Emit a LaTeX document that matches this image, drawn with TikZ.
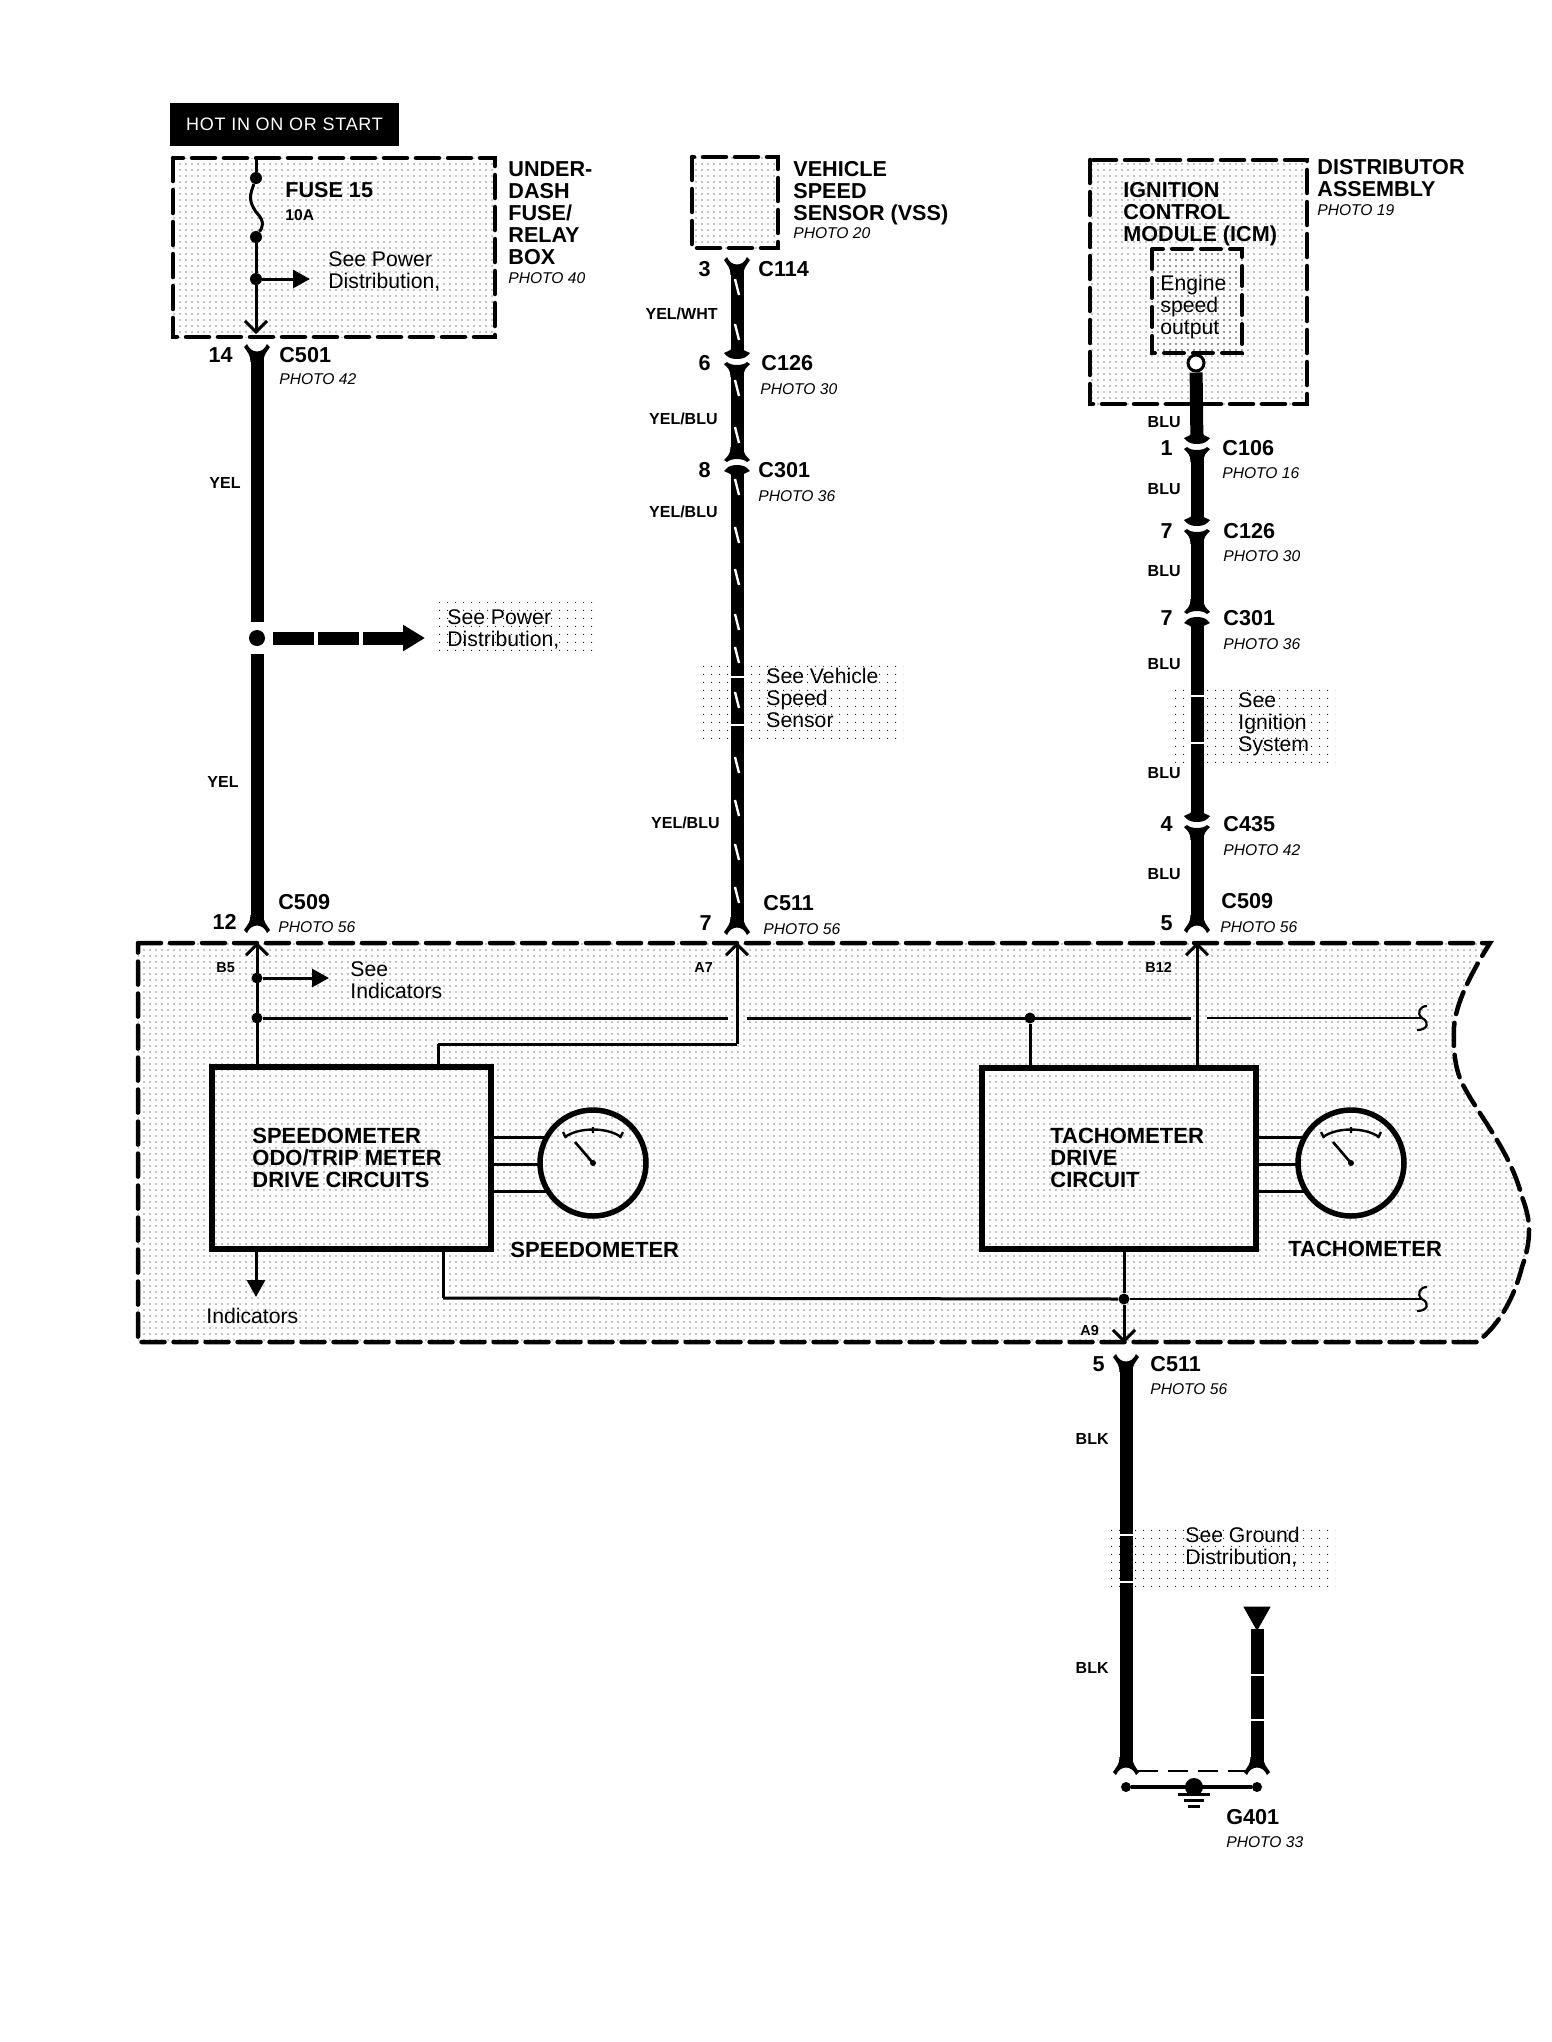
\documentclass[tikz,border=0pt]{standalone}
\usepackage{fontspec}
\setmainfont{Liberation Sans}
\newfontfamily\tagfont[LetterSpace=4]{Liberation Sans}
\usetikzlibrary{arrows.meta, patterns.meta, positioning}

\tikzset{
	stipple/.style={pattern={Dots[distance=3pt,radius=.36pt]}, pattern color=black},
	sparse/.style={pattern={Dots[distance=4pt,radius=.34pt]}, pattern color=black},
	dashbox/.style={draw, line width=2.25pt, line cap=round, dash pattern=on 11.5pt off 4.5pt, stipple},
	wire/.style={line width=6.5pt},
	thinwire/.style={line width=1.5pt},
	hair/.style={line width=1.1pt},
	stripe/.style={white, line width=1.2pt},
	block/.style={draw, rectangle, line width=3pt, inner sep=0pt},
	dot/.style={circle, fill, inner sep=0pt, minimum size=#1},
	dot/.default=6pt,
	gaugebody/.style={draw, circle, line width=2.75pt, inner sep=0pt, minimum size=53pt},
	txt/.style={inner sep=0pt, anchor=base west, align=left},
	bigname/.style={txt, font=\fontsize{10.8}{11}\selectfont\bfseries},
	seetxt/.style={txt, font=\fontsize{10.6}{11}\selectfont},
	photo/.style={txt, font=\fontsize{7.8}{9}\selectfont\itshape},
	pin/.style={txt, anchor=base east, font=\fontsize{10.8}{11}\selectfont\bfseries},
	colour/.style={txt, anchor=base east, font=\fontsize{8}{9}\selectfont\bfseries},
	small/.style={txt, font=\fontsize{7.2}{8}\selectfont\bfseries},
	barb/.style={-{Straight Barb[length=5.5pt,width=11pt]}},
	solid tip/.style={-{Triangle[length=8.5pt,width=9pt]}},
	forkend/.pic={
		\fill (-13,2) -- (-10,-1) .. controls (-6,9) and (6,9) .. (10,-1) -- (13,2)
			.. controls (9,8) and (6.5,10) .. (6.5,17) -- (-6.5,17)
			.. controls (-6.5,10) and (-9,8) .. (-13,2) -- cycle;
	},
	forkmid/.pic={
		\fill (-13,1) -- (-10,-1) .. controls (-6,3) and (6,3) .. (10,-1) -- (13,1)
			.. controls (9,5) and (6.5,7) .. (6.5,14) -- (-6.5,14)
			.. controls (-6.5,7) and (-9,5) .. (-13,1) -- cycle;
	},
	cappiece/.pic={
		\fill (-6.5,-13) -- (6.5,-13) -- (6.5,-12) -- (13,-9) -- (10,-6)
			.. controls (6,-2) and (-6,-2) .. (-10,-6) -- (-13,-9) -- (-6.5,-12) -- cycle;
	},
	needle/.pic={
		\draw[line width=1.2pt] (-28,-26) .. controls (-14,-36) and (14,-36) .. (28,-26);
		\draw[line width=1.2pt] (-30,-31) -- (-27,-25) (30,-31) -- (27,-25) (0,-36) -- (0,-30);
		\draw[line width=1.3pt] (-18,-21) -- (0,0);
		\fill (0,0) circle (3);
	},
	breakmark/.pic={
		\draw[line width=1.1pt] (5,-12) .. controls (-2,-12) and (-6,-5) .. (0,0)
			.. controls (8,4) and (6,12) .. (-5,12);
	},
}

\begin{document}
\begin{tikzpicture}[x=0.5pt, y=-0.5pt]
	\useasboundingbox (0,0) rectangle (1552,2042);

	% shaded areas
	\path[dashbox] (173,158) rectangle (495,337);
	\path[dashbox] (692,157) rectangle (778,248);
	\path[dashbox] (1090,160) rectangle (1307,404);
	\path[dashbox, line width=2pt, dash pattern=on 10pt off 4.5pt] (1152,249) rectangle (1242,353);
	\path[dashbox] (138,943) -- (1490,943)
		.. controls (1470,975) and (1456,1003) .. (1454,1027)
		.. controls (1453,1050) and (1455,1068) .. (1462,1083)
		.. controls (1478,1115) and (1510,1150) .. (1522,1197)
		.. controls (1527,1210) and (1529,1220) .. (1529,1230)
		.. controls (1529,1245) and (1526,1255) .. (1522,1267)
		.. controls (1515,1295) and (1500,1325) .. (1477,1342)
		-- (138,1342) -- cycle;
	\fill[sparse] (433,602) rectangle (595,653);
	\fill[sparse] (702,663) rectangle (903,738);
	\fill[sparse] (1170,685) rectangle (1335,762);
	\fill[sparse] (1105,1523) rectangle (1335,1590);

	% banner
	\node[fill=black, text=white, inner sep=0pt, minimum width=114.5pt, minimum height=21.5pt, font=\fontsize{9}{10}\selectfont\tagfont]
		(banner) at (284.5,124) {HOT IN ON OR START};

	% points on the wires
	\coordinate (fusetop)		at (256,158);
	\node[dot] 	(fusea)			at (256,178) {};
	\node[dot] 	(fuseb)			at (256,237) {};
	\node[dot] 	(fusetap)		at (256,279) {};
	\coordinate (fusetapend)	at (310,279);
	\coordinate (fuseout)		at (256,334);

	\coordinate (cfivezeroone)	at (257,345);
	\coordinate (leftstart)		at (257,357);
	\coordinate (powerup)		at (257,622);
	\node[dot=8pt] (powerdot)	at (257,638) {};
	\coordinate (powerstub)		at (273,638);
	\coordinate (powertip)		at (425,638);
	\coordinate (powerdown)		at (257,654);
	\coordinate (leftstop)		at (257,920);
	\coordinate (lefttop)		at (257,932);
	\coordinate (leftin)		at (257,942);

	\coordinate (cvss)			at (737,258);
	\coordinate (midstart)		at (737,270);
	\coordinate (vsscone)		at (737,362);
	\coordinate (vsscthree)		at (737,462);
	\coordinate (midstop)		at (737,922);
	\coordinate (midtop)		at (737,934);
	\coordinate (midin)			at (737,942);

	\node[circle, draw, fill=white, line width=1.5pt, inner sep=0pt, minimum size=8pt] (icmout) at (1196,363) {};
	\coordinate (ccone)			at (1197,447);
	\coordinate (cctwo)			at (1197,529);
	\coordinate (ccthree)		at (1197,614);
	\coordinate (ccfour)		at (1197,825);
	\coordinate (rightstop)		at (1197,920);
	\coordinate (righttop)		at (1197,932);
	\coordinate (rightin)		at (1197,942);

	% meter blocks
	\node[block, minimum width=139.5pt, minimum height=91pt] (speedbox) at (351.5,1158) {};
	\node[block, minimum width=137pt, minimum height=90.5pt] (tachbox) at (1118.75,1158.5) {};
	\node[gaugebody] (speedgauge) at (593,1163) {};
	\node[gaugebody] (tachgauge) at (1351,1163) {};
	\pic at (593,1163) {needle};
	\pic at (1351,1163) {needle};

	\node[dot=5.5pt] (leftbranch)	at (257,978) {};
	\node[dot=5.5pt] (leftbus)		at (257,1018) {};
	\node[dot=5.5pt] (tachbus)		at (1030,1018) {};
	\node[dot=5.5pt] (gndbus)		at (1124,1299) {};
	\coordinate (leftbranchtip)	at (329,978);
	\coordinate (buswest)		at (728,1018);
	\coordinate (buseast)		at (747,1018);
	\coordinate (busmore)		at (1191,1018);
	\coordinate (busright)		at (1207,1018);
	\coordinate (busend)		at (1422,1018);
	\coordinate (midcornera)	at (737,1044);
	\coordinate (midcornerb)	at (438,1044);
	\coordinate (gndcorner)		at (443,1298);
	\coordinate (gndend)		at (1422,1299);
	\coordinate (indictip)		at (256,1297);
	\coordinate (gndout)		at (1124,1343);

	\coordinate (cbottom)		at (1126,1355);
	\coordinate (lowstart)		at (1126,1367);
	\coordinate (gndleftstop)	at (1126,1762);
	\coordinate (gndleft)		at (1126,1774);
	\coordinate (gndrightstop)	at (1257,1762);
	\coordinate (gndright)		at (1257,1774);
	\coordinate (gndfree)		at (1257,1629);
	\coordinate (gnddasha)		at (1138,1771);
	\coordinate (gnddashb)		at (1247,1771);
	\node[dot=5pt] (gnda)		at (1126,1787) {};
	\node[dot=5pt] (gndb)		at (1257,1787) {};
	\node[dot=9pt] (gndc)		at (1194,1787) {};

	% heavy wires
	\path[wire]
	(leftstart)		edge 	(powerup)
	(powerdown)		edge 	(leftstop)
	(midstart)		edge 	(vsscone)
	(vsscone)		edge 	(vsscthree)
	(vsscthree)		edge 	(midstop)
	(icmout)		edge 	(ccone)
	(ccone)			edge 	(cctwo)
	(cctwo)			edge 	(ccthree)
	(ccthree)		edge 	(ccfour)
	(ccfour)		edge 	(rightstop)
	(lowstart)		edge 	(gndleftstop)
	(gndfree)		edge 	(gndrightstop)
	;
	\draw[wire, dash pattern=on 20.5pt off 2pt, -{Triangle[length=11pt,width=12.5pt]}] (powerstub) -- (powertip);

	% connector ends
	\foreach \at in {cfivezeroone, cvss, cbottom}
		\pic at (\at) {forkend};
	\foreach \at in {lefttop, midtop, righttop, gndleft, gndright}
		\pic[yscale=-1] at (\at) {forkend};
	\foreach \at in {vsscone, ccone, cctwo, ccfour} {
		\fill[white] ([shift={(-15,-7)}]\at) rectangle ([shift={(15,5)}]\at);
		\pic at (\at) {cappiece};
		\pic at ([shift={(0,1)}]\at) {forkmid};
	}
	\foreach \at in {vsscthree, ccthree} {
		\fill[white] ([shift={(-15,-5)}]\at) rectangle ([shift={(15,7)}]\at);
		\pic[yscale=-1] at (\at) {cappiece};
		\pic[yscale=-1] at ([shift={(0,-1)}]\at) {forkmid};
	}

	% marks on the wires
	\foreach \y in {287,332,388,435,487,535,577,622,655,700,765,808,852,895}
		\draw[stripe] (735,\y-8) -- (739,\y+8);
	\foreach \x/\y in {737/677, 737/725, 1197/696, 1197/743, 1126/1535, 1126/1582, 1257/1675, 1257/1720}
		\draw[stripe] (\x-9,\y) -- (\x+9,\y);
	\draw[fill] (1244,1607) -- (1270,1607) -- (1257,1630) -- cycle;

	% thin wires
	\path[thinwire]
	(fusetop)		edge 	(fusea)
	(fuseb)			edge 	(fusetap)
	(leftbus)		edge 	(leftbranch)
	(leftbus)		edge 	(speedbox.north -| leftbus)
	(leftbus)		edge 	(buswest)
	(buseast)		edge 	(busmore)
	(tachbus)		edge 	(tachbox.north -| tachbus)
	(tachbox.south -| gndbus) edge (gndbus)
	(midcornera)	edge 	(midcornerb)
	(midcornerb)	edge 	(speedbox.north -| midcornerb)
	(gndcorner)		edge 	(gndbus)
	(speedbox.south -| gndcorner) edge (gndcorner)
	;
	\path[hair]
	(busright)		edge 	(busend)
	(gndbus)		edge 	(gndend)
	;
	\draw[thinwire] (fusea) .. controls (250,195) and (248,200) .. (256,212)
		.. controls (266,222) and (262,228) .. (fuseb);
	\draw[thinwire, barb] (fusetap) -- (fuseout);
	\draw[thinwire, solid tip] (fusetap) -- (fusetapend);
	\draw[thinwire, barb] (speedbox.north -| leftin) -- (leftin);
	\draw[thinwire, barb] (midcornera) -- (midin);
	\draw[thinwire, barb] (tachbox.north -| rightin) -- (rightin);
	\draw[thinwire, barb] (gndbus) -- (gndout);
	\draw[thinwire, solid tip] (leftbranch) -- (leftbranchtip);
	\draw[thinwire, solid tip] (speedbox.south -| indictip) -- (indictip);
	\pic at (busend) {breakmark};
	\pic at (gndend) {breakmark};

	% stubs to the gauges
	\foreach \dy/\dx in {-25.5/-47, 1.5/-53, 28.5/-45} {
		\draw[thinwire] (speedbox.east |- {(0,1163+\dy)}) -- ([shift={(\dx,\dy)}]speedgauge.center);
		\draw[thinwire] (tachbox.east |- {(0,1163+\dy)}) -- ([shift={(\dx,\dy)}]tachgauge.center);
	}

	% ground strap
	\draw[line width=1pt, dash pattern=on 10pt off 5pt] (gnddasha) -- (gnddashb);
	\draw[line width=1.75pt] (gnda) -- (gndb);
	\draw[line width=1.5pt] (1178,1794) -- (1210,1794) (1184,1800) -- (1204,1800) (1188,1806) -- (1200,1806);

	% texts of the top boxes
	\node[bigname] 	(fuselbl)	at (285,197) 	{FUSE 15};
	\node[small, font=\fontsize{7.8}{9}\selectfont\bfseries] (fuseamp) at (285,220) {10A};
	\node[seetxt] 	(seepowera)	at (328,288) 	{See Power\\Distribution,};
	\node[bigname] 	(boxlbl)	at (508,264) 	{UNDER-\\DASH\\FUSE/\\RELAY\\BOX};
	\node[photo] 	(boxphoto)	at (508,283) 	{PHOTO 40};
	\node[bigname] 	(vsslbl)	at (793,220) 	{VEHICLE\\SPEED\\SENSOR (VSS)};
	\node[photo] 	(vssphoto)	at (793,238) 	{PHOTO 20};
	\node[bigname] 	(icmlbl)	at (1123,241) 	{IGNITION\\CONTROL\\MODULE (ICM)};
	\node[seetxt] 	(enginelbl)	at (1160,334) 	{Engine\\speed\\output};
	\node[bigname] 	(distlbl)	at (1317,196) 	{DISTRIBUTOR\\ASSEMBLY};
	\node[photo] 	(distphoto)	at (1317,215) 	{PHOTO 19};

	% left column
	\node[pin] 		(pinfourteen)	at (233,362) 	{14};
	\node[bigname] 	(clefta)		at (279,362) 	{C501};
	\node[photo] 	(cleftaphoto)	at (279,384) 	{PHOTO 42};
	\node[colour] 	(yela)			at (241,488) 	{YEL};
	\node[colour] 	(yelb)			at (239,787) 	{YEL};
	\node[seetxt] 	(seepowerb)		at (447,646) 	{See Power\\Distribution,};
	\node[pin] 		(pintwelve)		at (237,929) 	{12};
	\node[bigname] 	(cleftb)		at (278,909) 	{C509};
	\node[photo] 	(cleftbphoto)	at (278,932) 	{PHOTO 56};

	% middle column
	\node[pin] 		(pinthree)		at (711,276) 	{3};
	\node[bigname] 	(cmida)			at (758,276) 	{C114};
	\node[colour] 	(yelwht)		at (718,319) 	{YEL/WHT};
	\node[pin] 		(pinsix)		at (711,370) 	{6};
	\node[bigname] 	(cmidb)			at (761,370) 	{C126};
	\node[photo] 	(cmidbphoto)	at (760,394) 	{PHOTO 30};
	\node[colour] 	(yelblua)		at (718,424) 	{YEL/BLU};
	\node[pin] 		(pineight)		at (711,477) 	{8};
	\node[bigname] 	(cmidc)			at (758,477) 	{C301};
	\node[photo] 	(cmidcphoto)	at (758,501) 	{PHOTO 36};
	\node[colour] 	(yelblub)		at (718,517) 	{YEL/BLU};
	\node[seetxt] 	(seevss)		at (766,727) 	{See Vehicle\\Speed\\Sensor};
	\node[colour] 	(yelbluc)		at (720,828) 	{YEL/BLU};
	\node[pin] 		(pinseven)		at (712,930) 	{7};
	\node[bigname] 	(cmidd)			at (763,910) 	{C511};
	\node[photo] 	(cmiddphoto)	at (763,934) 	{PHOTO 56};

	% right column
	\node[colour] 	(blua)			at (1181,427) 	{BLU};
	\node[pin] 		(pinone)		at (1173,455) 	{1};
	\node[bigname] 	(crighta)		at (1222,455) 	{C106};
	\node[photo] 	(crightaphoto)	at (1222,478) 	{PHOTO 16};
	\node[colour] 	(blub)			at (1181,494) 	{BLU};
	\node[pin] 		(pinsevena)		at (1173,538) 	{7};
	\node[bigname] 	(crightb)		at (1223,538) 	{C126};
	\node[photo] 	(crightbphoto)	at (1223,561) 	{PHOTO 30};
	\node[colour] 	(bluc)			at (1181,576) 	{BLU};
	\node[pin] 		(pinsevenb)		at (1173,625) 	{7};
	\node[bigname] 	(crightc)		at (1223,625) 	{C301};
	\node[photo] 	(crightcphoto)	at (1223,649) 	{PHOTO 36};
	\node[colour] 	(blud)			at (1181,669) 	{BLU};
	\node[seetxt] 	(seeign)		at (1238,751) 	{See\\Ignition\\System};
	\node[colour] 	(blue)			at (1181,778) 	{BLU};
	\node[pin] 		(pinfour)		at (1173,831) 	{4};
	\node[bigname] 	(crightd)		at (1223,831) 	{C435};
	\node[photo] 	(crightdphoto)	at (1223,855) 	{PHOTO 42};
	\node[colour] 	(bluf)			at (1181,879) 	{BLU};
	\node[pin] 		(pinfive)		at (1173,930) 	{5};
	\node[bigname] 	(crighte)		at (1221,908) 	{C509};
	\node[photo] 	(crightephoto)	at (1220,932) 	{PHOTO 56};

	% cluster
	\node[small] 	(bfive)		at (216,972) 	{B5};
	\node[small] 	(aseven)	at (694,972) 	{A7};
	\node[small] 	(btwelve)	at (1145,972) 	{B12};
	\node[small] 	(anine)		at (1080,1335) 	{A9};
	\node[seetxt] 	(seeind)	at (350,998) 	{See\\Indicators};
	\node[seetxt] 	(indic)		at (206,1323) 	{Indicators};
	\node[bigname, font=\fontsize{11}{11}\selectfont\bfseries] (speedtxt) at (252,1187) {SPEEDOMETER\\ODO/TRIP METER\\DRIVE CIRCUITS};
	\node[bigname, font=\fontsize{11}{11}\selectfont\bfseries] (tachtxt) at (1050,1187) {TACHOMETER\\DRIVE\\CIRCUIT};
	\node[bigname, font=\fontsize{11}{11}\selectfont\bfseries] (speedname) at (510,1257) {SPEEDOMETER};
	\node[bigname, font=\fontsize{11}{11}\selectfont\bfseries] (tachname) at (1288,1256) {TACHOMETER};

	% ground side
	\node[pin] 		(pinfiveb)	at (1105,1371) 	{5};
	\node[bigname] 	(clow)		at (1150,1371) 	{C511};
	\node[photo] 	(clowphoto)	at (1150,1394) 	{PHOTO 56};
	\node[colour] 	(blka)		at (1109,1444) 	{BLK};
	\node[seetxt] 	(seegnd)	at (1185,1564) 	{See Ground\\Distribution,};
	\node[colour] 	(blkb)		at (1109,1673) 	{BLK};
	\node[bigname] 	(gfour)		at (1226,1824) 	{G401};
	\node[photo] 	(gfourphoto) at (1226,1847) {PHOTO 33};
\end{tikzpicture}
\end{document}
